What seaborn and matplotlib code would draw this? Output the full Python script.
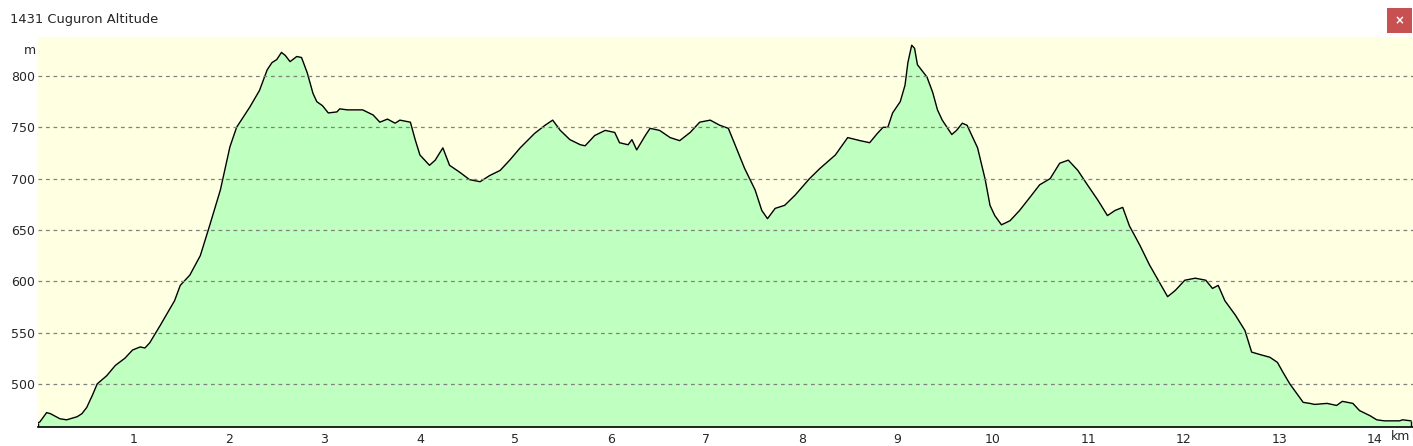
import numpy as np
import pandas as pd
import matplotlib
matplotlib.use("Agg")
import matplotlib.pyplot as plt
import seaborn as sns
from matplotlib.patches import Rectangle

# ===== DATA =====
TITLE = "1431 Cuguron Altitude"
distance_km = [
    0.00, 0.02, 0.09, 0.13, 0.23, 0.30, 0.41, 0.46, 0.51, 0.57, 0.62, 0.72, 0.81, 0.91,
    0.99, 1.07, 1.12, 1.17, 1.28, 1.43, 1.49, 1.59, 1.70, 1.80, 1.91, 2.01, 2.08, 2.15,
    2.22, 2.32, 2.40, 2.45, 2.50, 2.55, 2.59, 2.64, 2.71, 2.76, 2.82, 2.88, 2.92, 2.98,
    3.04, 3.13, 3.16, 3.24, 3.30, 3.40, 3.51, 3.58, 3.66, 3.74, 3.79, 3.90, 3.95, 4.00,
    4.10, 4.16, 4.24, 4.31, 4.42, 4.52, 4.63, 4.73, 4.84, 4.94, 5.05, 5.20, 5.31, 5.39,
    5.47, 5.57, 5.68, 5.73, 5.83, 5.94, 6.04, 6.09, 6.18, 6.22, 6.27, 6.36, 6.41, 6.51,
    6.62, 6.72, 6.83, 6.93, 7.04, 7.14, 7.23, 7.30, 7.40, 7.51, 7.58, 7.64, 7.72, 7.82,
    7.93, 8.08, 8.19, 8.35, 8.48, 8.61, 8.71, 8.79, 8.85, 8.90, 8.95, 9.03, 9.08, 9.11,
    9.15, 9.18, 9.21, 9.31, 9.37, 9.42, 9.47, 9.57, 9.62, 9.68, 9.73, 9.79, 9.84, 9.92,
    9.97, 10.02, 10.09, 10.18, 10.28, 10.39, 10.49, 10.60, 10.70, 10.79, 10.89, 10.99,
    11.10, 11.20, 11.28, 11.36, 11.43, 11.54, 11.64, 11.75, 11.83, 11.91, 12.01, 12.12,
    12.23, 12.30, 12.36, 12.43, 12.54, 12.64, 12.71, 12.82, 12.90, 12.98, 13.04, 13.11,
    13.18, 13.25, 13.32, 13.37, 13.50, 13.60, 13.66, 13.77, 13.84, 13.95, 14.02, 14.10,
    14.26, 14.29, 14.38,
]
altitude_m = [
    462, 463, 472, 471, 466, 465, 468, 471, 477, 489, 500, 508, 518, 525,
    533, 536, 535, 540, 557, 581, 596, 606, 625, 655, 689, 731, 750, 760,
    770, 786, 806, 813, 816, 823, 820, 814, 819, 818, 803, 783, 775, 771,
    764, 765, 768, 767, 767, 767, 762, 755, 758, 754, 757, 755, 738, 723,
    713, 718, 730, 713, 706, 699, 697, 703, 708, 718, 730, 744, 752, 757,
    747, 738, 733, 732, 742, 747, 745, 735, 733, 738, 728, 742, 749, 747,
    740, 737, 745, 755, 757, 752, 749, 733, 710, 689, 669, 661, 671, 674,
    684, 700, 710, 723, 740, 737, 735, 744, 750, 750, 764, 775, 791, 813,
    830, 827, 811, 799, 784, 767, 757, 743, 747, 754, 752, 740, 730, 699,
    674, 664, 655, 659, 669, 682, 694, 700, 715, 718, 708, 694,
    679, 664, 669, 672, 654, 635, 616, 598, 585, 591, 601, 603,
    601, 593, 596, 581, 567, 552, 531, 528, 526, 521, 511, 500,
    491, 482, 481, 480, 481, 479, 483, 481, 474, 469, 465, 464,
    464, 465, 464,
]
y_ticks = [500, 550, 600, 650, 700, 750, 800]
x_ticks = list(range(1, 15))

df = pd.DataFrame({"km": distance_km, "alt": altitude_m})

# ===== STYLE =====
sns.set_style("white")
plt.rcParams["font.family"] = ["DejaVu Sans"]

W, H = 1413, 446
fig = plt.figure(figsize=(W / 100, H / 100), dpi=100)
fig.patch.set_facecolor("white")

# plot area in pixel coords: x 38..1413, y 37..427
ax = fig.add_axes([38 / W, (H - 427) / H, (W - 38) / W, 390 / H])
ax.set_facecolor("#FFFFE1")

y_min, y_max = 458, 838
ax.fill_between(df["km"], df["alt"], y_min, color="#BFFFBF", linewidth=0, zorder=2)
sns.lineplot(data=df, x="km", y="alt", ax=ax, color="black", linewidth=1.0, zorder=3)
ax.vlines([df["km"].iloc[0], df["km"].iloc[-1]], y_min,
          [df["alt"].iloc[0], df["alt"].iloc[-1]], color="black", linewidth=1.0, zorder=3)

for v in y_ticks:
    ax.axhline(v, color="#808080", linewidth=0.9, linestyle=(0, (3, 3)), zorder=4)

ax.set_xlim(0, 14.40)
ax.set_ylim(y_min, y_max)
ax.set_xticks(x_ticks)
ax.set_xticklabels([str(t) for t in x_ticks], fontsize=9)
ax.set_yticks(y_ticks)
ax.set_yticklabels([str(t) for t in y_ticks], fontsize=9)
ax.tick_params(axis="x", direction="in", length=4, color="blue", width=1, pad=4)
ax.tick_params(axis="y", length=0, pad=2)
ax.set_xlabel("")
ax.set_ylabel("")
for side in ["left", "top", "right"]:
    ax.spines[side].set_visible(False)
ax.spines["bottom"].set_color("black")
ax.spines["bottom"].set_linewidth(1.2)
ax.spines["bottom"].set_zorder(5)

# unit labels
fig.text(30 / W, 1 - 51 / H, "m", fontsize=9, ha="center", va="center")
fig.text(1401 / W, 1 - 437 / H, "km", fontsize=9, ha="center", va="center")

# window title bar
fig.text(10 / W, 1 - 19 / H, TITLE, fontsize=9.4, ha="left", va="center")
fig.patches.append(Rectangle((1387 / W, 1 - 33 / H), 25 / W, 25 / H,
                             transform=fig.transFigure, facecolor="#C75050",
                             edgecolor="none"))
fig.text(1399.5 / W, 1 - 20.5 / H, "×", fontsize=8.5, color="white", weight="bold",
         ha="center", va="center")

plt.savefig("out.png", dpi=100, facecolor=fig.get_facecolor())
